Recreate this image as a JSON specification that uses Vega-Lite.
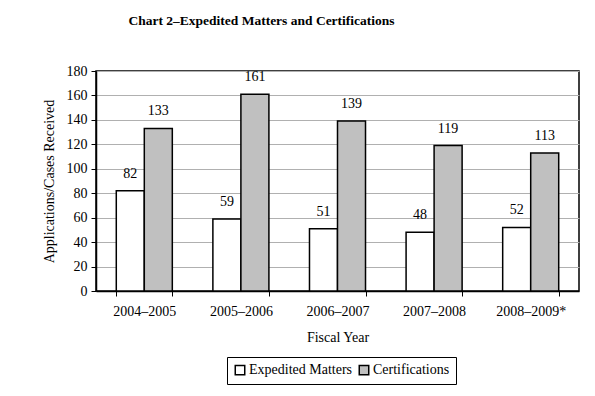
{
  "$schema": "https://vega.github.io/schema/vega-lite/v6.json",
  "autosize": {"type": "none"},
  "width": 483,
  "height": 220,
  "padding": {"left": 96, "top": 71, "right": 16, "bottom": 105},
  "background": "white",
  "config": {
    "font": "Liberation Serif",
    "view": {"stroke": "black", "strokeWidth": 1.5},
    "axis": {"labelFont": "Liberation Serif", "titleFont": "Liberation Serif"},
    "legend": {"labelFont": "Liberation Serif"},
    "text": {"font": "Liberation Serif"}
  },
  "title": {
    "text": "Chart 2–Expedited Matters and Certifications",
    "fontSize": 13.5,
    "fontWeight": "bold",
    "font": "Liberation Serif",
    "color": "black",
    "anchor": "middle",
    "dx": -76,
    "offset": 37
  },
  "data": {
    "values": [
      {"year": "2004–2005", "series": "Expedited Matters", "value": 82},
      {"year": "2004–2005", "series": "Certifications", "value": 133},
      {"year": "2005–2006", "series": "Expedited Matters", "value": 59},
      {"year": "2005–2006", "series": "Certifications", "value": 161},
      {"year": "2006–2007", "series": "Expedited Matters", "value": 51},
      {"year": "2006–2007", "series": "Certifications", "value": 139},
      {"year": "2007–2008", "series": "Expedited Matters", "value": 48},
      {"year": "2007–2008", "series": "Certifications", "value": 119},
      {"year": "2008–2009*", "series": "Expedited Matters", "value": 52},
      {"year": "2008–2009*", "series": "Certifications", "value": 113}
    ]
  },
  "encoding": {
    "x": {
      "field": "year", "type": "nominal", "sort": null,
      "scale": {"paddingInner": 0.42, "paddingOuter": 0.21},
      "axis": {
        "title": "Fiscal Year", "labelAngle": 0, "labelFontSize": 14, "labelColor": "black",
        "titleFontSize": 14, "titleFontWeight": "normal", "titleColor": "black", "titlePadding": 12,
        "tickBand": "extent", "domainColor": "black", "tickColor": "black", "tickSize": 5,
        "labelPadding": 8, "domainWidth": 1.5
      }
    },
    "xOffset": {"field": "series", "type": "nominal", "sort": ["Expedited Matters", "Certifications"]},
    "y": {
      "field": "value", "type": "quantitative",
      "scale": {"domain": [0, 180], "nice": false},
      "axis": {
        "title": "Applications/Cases Received", "values": [0, 20, 40, 60, 80, 100, 120, 140, 160, 180],
        "tickCount": 10, "labelOverlap": false, "labelFontSize": 14, "labelColor": "black", "titleFontSize": 14, "titleFontWeight": "normal",
        "titleColor": "black", "titlePadding": 10, "gridColor": "#b0b0b0", "gridWidth": 1,
        "domainColor": "black", "domainWidth": 1.5, "tickColor": "black", "tickSize": 5, "labelPadding": 4
      }
    }
  },
  "layer": [
    {
      "mark": {"type": "bar", "stroke": "black", "strokeWidth": 1.5},
      "encoding": {
        "fill": {
          "field": "series", "type": "nominal",
          "sort": ["Expedited Matters", "Certifications"],
          "scale": {"domain": ["Expedited Matters", "Certifications"], "range": ["#ffffff", "#c0c0c0"]},
          "legend": {
            "title": null, "orient": "none", "legendX": 131, "legendY": 286, "direction": "horizontal",
            "symbolType": "square", "symbolStrokeColor": "black", "symbolStrokeWidth": 1.5, "symbolSize": 90,
            "labelFontSize": 14, "labelColor": "black", "strokeColor": "black", "padding": 6,
            "columnPadding": 3, "symbolOffset": 0, "labelOffset": 2
          }
        }
      }
    },
    {
      "mark": {"type": "text", "dy": -10, "fontSize": 14, "color": "black", "baseline": "bottom"},
      "encoding": {
        "text": {"field": "value", "type": "quantitative"}
      }
    }
  ]
}
